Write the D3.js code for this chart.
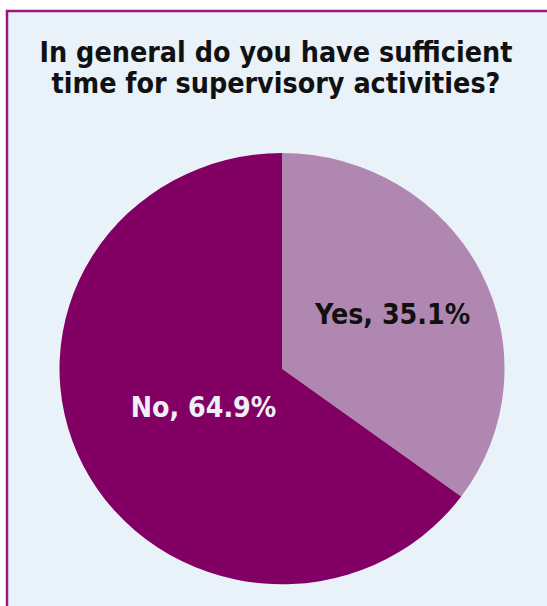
<!DOCTYPE html>
<html>
<head>
<meta charset="utf-8">
<script src="https://cdn.jsdelivr.net/npm/d3@7"></script>
<style>
body{margin:0;background:#fff;}
svg{display:block;}
</style>
</head>
<body>
<script>
var width=547,
	height=606;

// data
var categories=["Yes","No"],
	values=[35.1,64.9],
	colors=["#b087b0","#820064"],
	labelColors=["#111111","#eef0f8"],
	titleLines=["In general do you have sufficient","time for supervisory activities?"];

function init(){
	var svg=d3.select("body").append("svg").attr("width",width).attr("height",height)

	// frame
	svg.append("rect")
		.attr("x",7).attr("y",11)
		.attr("width",width).attr("height",height)
		.attr("fill","#e9f1f9")
		.attr("stroke","#9c1680").attr("stroke-width",2.5)

	svg.append("text")
		.attr("x",276).attr("y",62)
		.attr("text-anchor","middle")
		.style("font-family","'DejaVu Sans'")
		.style("font-stretch","condensed")
		.style("font-weight","bold")
		.style("font-size","28.4px")
		.attr("fill","#111")
		.selectAll("tspan").data(titleLines).enter().append("tspan")
			.attr("x",276).attr("dy",(d,i)=>i?31:0)
			.text(d=>d)

	var data=categories.map((c,i)=>({name:c,value:values[i],color:colors[i],label:labelColors[i]}))

	var pie=d3.pie().sort(null).value(d=>d.value)
	var r=222.5, sy=0.969
	var arc=d3.arc().innerRadius(0).outerRadius(r)

	var g=svg.append("g").attr("transform","translate(282,368.7) scale(1,"+sy+")")
	g.selectAll("path").data(pie(data)).enter().append("path")
		.attr("d",arc)
		.attr("fill",d=>d.data.color)

	// label distance from centre differs per slice
	var labelR=d=>d.index===0?124:88
	function labelPos(d){
		var a=(d.startAngle+d.endAngle)/2
		return [Math.sin(a)*labelR(d),-Math.cos(a)*labelR(d)*sy]
	}
	svg.append("g").attr("transform","translate(282,368.7)")
		.selectAll("text").data(pie(data)).enter().append("text")
		.attr("x",d=>labelPos(d)[0])
		.attr("y",d=>labelPos(d)[1])
		.attr("text-anchor","middle")
		.attr("dy","0.35em")
		.style("font-family","'DejaVu Sans'")
		.style("font-stretch","condensed")
		.style("font-weight","bold")
		.style("font-size","28.3px")
		.attr("fill",d=>d.data.label)
		.text(d=>d.data.name+", "+d3.format(".1f")(d.data.value)+"%")
}
init()
</script>
</body>
</html>
